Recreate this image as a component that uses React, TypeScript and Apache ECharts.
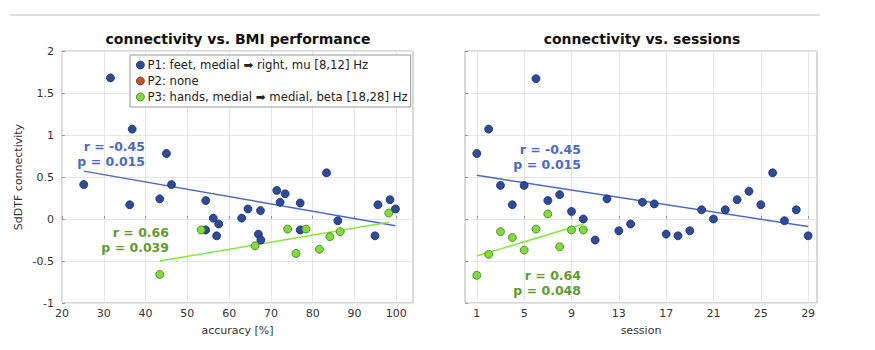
import React, { useEffect, useRef } from "react";
import * as echarts from "echarts";

// ---- data ----
const accP1 = [25.2, 31.6, 36.8, 36.2, 43.4, 45.0, 46.2, 54.4, 54.4, 56.2, 57.5, 57.0, 63.0, 64.5, 67.5, 67.0, 67.6, 71.4, 72.2, 73.4, 77.0, 77.0, 83.3, 86.0, 94.9, 95.6, 98.5, 99.8];
const conAccP1 = [0.41, 1.68, 1.07, 0.17, 0.24, 0.78, 0.41, 0.22, -0.13, 0.01, -0.06, -0.2, 0.01, 0.12, 0.1, -0.18, -0.25, 0.34, 0.2, 0.3, 0.19, -0.13, 0.55, -0.02, -0.2, 0.17, 0.23, 0.12];
const accP3 = [43.4, 53.3, 66.2, 74.0, 76.0, 78.4, 81.6, 84.1, 86.6, 98.2];
const conAccP3 = [-0.66, -0.13, -0.32, -0.12, -0.41, -0.12, -0.36, -0.21, -0.15, 0.07];

const sessP1 = [1, 2, 3, 4, 5, 6, 7, 8, 9, 10, 11, 12, 13, 14, 15, 16, 17, 18, 19, 20, 21, 22, 23, 24, 25, 26, 27, 28, 29];
const conSessP1 = [0.78, 1.07, 0.4, 0.17, 0.4, 1.67, 0.22, 0.29, 0.09, 0.0, -0.25, 0.24, -0.14, -0.06, 0.2, 0.18, -0.18, -0.2, -0.14, 0.11, 0.0, 0.11, 0.23, 0.33, 0.17, 0.55, -0.02, 0.11, -0.2];
const sessP3 = [1, 2, 3, 4, 5, 6, 7, 8, 9, 10];
const conSessP3 = [-0.67, -0.42, -0.15, -0.22, -0.37, -0.12, 0.06, -0.33, -0.13, -0.13];

// regression line end points
const fitAccP1X = [25.2, 99.8];
const fitAccP1Y = [0.57, -0.08];
const fitAccP3X = [43.4, 98.2];
const fitAccP3Y = [-0.5, -0.04];
const fitSessP1X = [1, 29];
const fitSessP1Y = [0.52, -0.09];
const fitSessP3X = [1, 10];
const fitSessP3Y = [-0.44, -0.06];

// tick labels
const accTicks = [20, 30, 40, 50, 60, 70, 80, 90, 100];
const sessTicks = [1, 5, 9, 13, 17, 21, 25, 29];

const legendNames = [
  "P1: feet, medial \u27A1 right, mu [8,12] Hz",
  "P2: none",
  "P3: hands, medial \u27A1 medial, beta [18,28] Hz",
];
const statsLeft = [["r = -0.45", "p = 0.015"], ["r = 0.66", "p = 0.039"]];
const statsRight = [["r = -0.45", "p = 0.015"], ["r = 0.64", "p = 0.048"]];

const BLUE = "#2d4b9b";
const BLUE_EDGE = "#1b2c63";
const GREEN = "#7fdc3a";
const GREEN_EDGE = "#3f7d1e";
const RED = "#c5532b";
const BLUE_LINE = "#4a6bc8";
const GREEN_LINE = "#84ea3c";
const BLUE_TXT = "#4b69c6";
const GREEN_TXT = "#5e9c2e";
const FONT = "DejaVu Sans";

const zip = (a: number[], b: number[]) => a.map((v, i) => [v, b[i]]);

export default function App() {
  const ref = useRef<HTMLDivElement>(null);
  useEffect(() => {
    if (!ref.current) return;
    const chart = echarts.init(ref.current, null, { renderer: "svg" });
    const axisText = { color: "#333", fontSize: 11, fontFamily: FONT };
    const split = { show: true, lineStyle: { color: "#e6e6e6", width: 1 } };
    const tick = { show: true, inside: true, length: 3, lineStyle: { color: "#999" } };
    const scatterBase = (name: string, data: number[][], color: string, edge: string, xi: number) => ({
      name,
      type: "scatter",
      xAxisIndex: xi,
      yAxisIndex: xi,
      data,
      symbol: "circle",
      symbolSize: 8,
      itemStyle: { color, borderColor: edge, borderWidth: 0.8, opacity: 1 },
      z: 5,
    });
    const lineBase = (data: number[][], color: string, xi: number) => ({
      type: "line",
      xAxisIndex: xi,
      yAxisIndex: xi,
      data,
      symbol: "none",
      lineStyle: { color, width: 1.5 },
      silent: true,
      z: 4,
    });
    const statText = (x: number, y: number, t: string, color: string) => ({
      type: "text",
      x,
      y,
      style: {
        text: t,
        fill: color,
        font: `bold 12.5px "${FONT}"`,
        textAlign: "right",
        textVerticalAlign: "middle",
      },
      z: 10,
    });
    chart.setOption({
      animation: false,
      backgroundColor: "#fff",
      textStyle: { fontFamily: FONT },
      title: [
        {
          text: "connectivity vs. BMI performance",
          left: 233,
          top: 27,
          textAlign: "center",
          textStyle: { fontSize: 14, fontWeight: "bold", color: "#111", fontFamily: FONT },
        },
        {
          text: "connectivity vs. sessions",
          left: 637,
          top: 27,
          textAlign: "center",
          textStyle: { fontSize: 14, fontWeight: "bold", color: "#111", fontFamily: FONT },
        },
      ],
      legend: {
        data: legendNames.map((n, i) => ({
          name: n,
          itemStyle: { color: [BLUE, RED, GREEN][i], borderColor: [BLUE_EDGE, "#7a2e14", GREEN_EDGE][i], borderWidth: 0.8 },
        })),
        orient: "vertical",
        left: 130,
        top: 55,
        padding: [4, 3, 4, 6],
        itemGap: 4,
        itemWidth: 8,
        itemHeight: 8,
        icon: "circle",
        selectedMode: false,
        backgroundColor: "#fff",
        borderColor: "#999",
        borderWidth: 1,
        textStyle: { fontSize: 11.7, color: "#222", fontFamily: FONT, padding: [0, 0, 0, -2] },
      },
      grid: [
        { left: 62, top: 51, width: 351, height: 252, show: true, borderColor: "#b5b5b5", borderWidth: 1, backgroundColor: "transparent" },
        { left: 465, top: 51, width: 352, height: 252, show: true, borderColor: "#b5b5b5", borderWidth: 1, backgroundColor: "transparent" },
      ],
      xAxis: [
        {
          type: "value",
          gridIndex: 0,
          min: 20,
          max: 104,
          name: "accuracy [%]",
          nameLocation: "middle",
          nameGap: 22,
          nameTextStyle: { color: "#333", fontSize: 11, fontFamily: FONT },
          axisLine: { show: false },
          axisTick: { ...tick, customValues: accTicks },
          axisLabel: { ...axisText, margin: 5, customValues: accTicks },
          splitLine: split,
        },
        {
          type: "value",
          gridIndex: 1,
          min: 0,
          max: 29.75,
          name: "session",
          nameLocation: "middle",
          nameGap: 22,
          nameTextStyle: { color: "#333", fontSize: 11, fontFamily: FONT },
          axisLine: { show: false },
          axisTick: { ...tick, customValues: sessTicks },
          axisLabel: { ...axisText, margin: 5, customValues: sessTicks },
          splitLine: split,
        },
      ],
      yAxis: [
        {
          type: "value",
          gridIndex: 0,
          min: -1,
          max: 2,
          interval: 0.5,
          name: "SdDTF connectivity",
          nameLocation: "middle",
          nameGap: 38,
          nameTextStyle: { color: "#333", fontSize: 11, fontFamily: FONT },
          axisLine: { show: false },
          axisTick: tick,
          axisLabel: { ...axisText, margin: 8 },
          splitLine: split,
        },
        {
          type: "value",
          gridIndex: 1,
          min: -1,
          max: 2,
          interval: 0.5,
          axisLine: { show: false },
          axisTick: tick,
          axisLabel: { show: false },
          splitLine: split,
        },
      ],
      series: [
        lineBase(zip(fitAccP1X, fitAccP1Y), BLUE_LINE, 0),
        lineBase(zip(fitAccP3X, fitAccP3Y), GREEN_LINE, 0),
        scatterBase(legendNames[0], zip(accP1, conAccP1), BLUE, BLUE_EDGE, 0),
        scatterBase(legendNames[1], [], RED, "#7a2e14", 0),
        scatterBase(legendNames[2], zip(accP3, conAccP3), GREEN, GREEN_EDGE, 0),
        lineBase(zip(fitSessP1X, fitSessP1Y), BLUE_LINE, 1),
        lineBase(zip(fitSessP3X, fitSessP3Y), GREEN_LINE, 1),
        scatterBase(legendNames[0], zip(sessP1, conSessP1), BLUE, BLUE_EDGE, 1),
        scatterBase(legendNames[2], zip(sessP3, conSessP3), GREEN, GREEN_EDGE, 1),
      ],
      graphic: [
        { type: "line", shape: { x1: 10, y1: 15, x2: 820, y2: 15 }, style: { stroke: "#bbb", lineWidth: 1 } },
        statText(145, 146, statsLeft[0][0], BLUE_TXT),
        statText(145, 161, statsLeft[0][1], BLUE_TXT),
        statText(169, 232, statsLeft[1][0], GREEN_TXT),
        statText(169, 247, statsLeft[1][1], GREEN_TXT),
        statText(581, 149, statsRight[0][0], BLUE_TXT),
        statText(581, 164, statsRight[0][1], BLUE_TXT),
        statText(581, 275, statsRight[1][0], GREEN_TXT),
        statText(581, 290, statsRight[1][1], GREEN_TXT),
      ],
    });
    return () => chart.dispose();
  }, []);
  return (
    <div
      ref={ref}
      style={{ position: "fixed", left: 0, top: 0, width: 875, height: 350, background: "#fff" }}
    />
  );
}
